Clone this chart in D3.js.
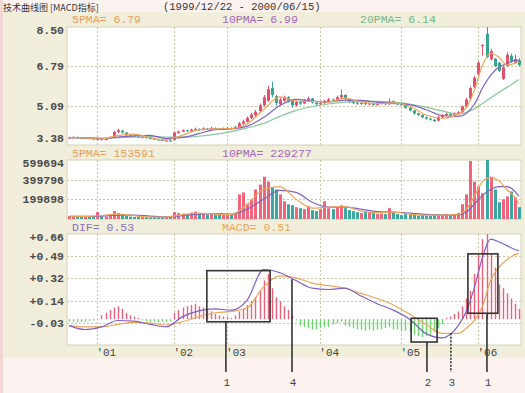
<!DOCTYPE html>
<html><head><meta charset="utf-8">
<script src="https://cdn.jsdelivr.net/npm/d3@7"></script>
<style>body{margin:0;background:#fbf1ef;} svg{display:block}</style>
</head><body><svg id="c" width="525" height="393"></svg>
<script>
// ---------------- DATA ----------------
const N = 112;
const opens  = [3.66,3.70,3.73,3.68,3.65,3.70,3.66,3.61,3.64,3.60,3.66,3.74,3.94,4.00,3.92,3.80,3.78,3.74,3.70,3.72,3.68,3.65,3.62,3.60,3.56,3.58,
  3.60,3.90,3.96,4.02,3.98,4.04,4.08,4.04,4.10,4.06,4.12,4.08,4.05,4.10,4.12,4.08,4.16,4.30,4.38,4.55,4.68,4.85,5.10,5.30,5.85,5.50,5.15,5.30,5.45,5.30,
  5.10,5.25,5.18,5.30,5.40,5.22,5.14,5.20,5.26,5.35,5.30,5.45,5.55,5.38,5.25,5.22,5.16,5.20,5.14,5.20,5.12,5.18,5.22,5.15,5.28,5.20,5.15,5.12,5.00,4.88,
  4.75,4.68,4.58,4.52,4.48,4.44,4.58,4.66,4.72,4.66,4.74,4.80,5.05,5.40,5.90,6.45,7.70,8.20,7.10,7.12,6.95,6.25,6.80,7.25,6.95,7.05];
const closes = [3.70,3.72,3.68,3.66,3.70,3.65,3.62,3.64,3.60,3.66,3.72,3.95,4.02,3.92,3.80,3.78,3.74,3.70,3.72,3.68,3.65,3.62,3.60,3.56,3.58,3.55,
  3.92,3.96,4.02,3.98,4.05,4.08,4.04,4.10,4.06,4.12,4.08,4.05,4.10,4.12,4.08,4.15,4.32,4.40,4.55,4.70,4.82,5.10,5.45,5.80,5.55,5.20,5.35,5.45,5.30,5.10,
  5.25,5.18,5.32,5.40,5.22,5.15,5.20,5.28,5.35,5.30,5.45,5.55,5.38,5.25,5.22,5.18,5.20,5.15,5.20,5.12,5.18,5.22,5.15,5.28,5.20,5.15,5.12,5.00,4.88,4.75,
  4.68,4.58,4.52,4.48,4.42,4.60,4.68,4.72,4.66,4.75,4.80,5.05,5.35,5.85,6.30,6.95,7.72,7.20,7.45,6.80,6.60,6.75,7.30,7.00,7.10,6.85];
const highs  = [3.74,3.76,3.75,3.70,3.73,3.71,3.68,3.67,3.66,3.69,3.76,4.00,4.08,4.04,3.94,3.84,3.80,3.76,3.75,3.74,3.70,3.67,3.64,3.62,3.61,3.60,
  3.96,4.00,4.06,4.05,4.09,4.14,4.10,4.15,4.12,4.18,4.14,4.10,4.14,4.17,4.14,4.20,4.38,4.48,4.62,4.78,4.90,5.18,5.55,5.95,6.13,5.55,5.45,5.52,5.50,5.32,
  5.30,5.30,5.38,5.48,5.42,5.26,5.26,5.34,5.42,5.40,5.52,5.79,5.58,5.40,5.30,5.26,5.25,5.24,5.26,5.22,5.24,5.28,5.25,5.40,5.32,5.24,5.20,5.14,5.02,4.90,
  4.78,4.70,4.62,4.55,4.50,4.64,4.72,4.78,4.75,4.80,4.85,5.10,5.42,5.92,6.38,7.02,7.75,8.50,7.55,7.15,7.00,6.80,7.40,7.35,7.30,7.15];
const lows   = [3.64,3.67,3.66,3.63,3.63,3.62,3.60,3.59,3.57,3.58,3.64,3.72,3.90,3.88,3.78,3.75,3.72,3.68,3.68,3.66,3.63,3.60,3.58,3.54,3.53,3.52,
  3.58,3.88,3.94,3.95,3.96,4.02,4.00,4.02,4.03,4.04,4.05,4.02,4.03,4.07,4.05,4.06,4.14,4.26,4.35,4.50,4.62,4.80,5.05,5.25,5.45,5.10,5.10,5.25,5.22,5.00,
  5.05,5.12,5.15,5.25,5.18,5.10,5.10,5.16,5.22,5.25,5.28,5.40,5.32,5.20,5.16,5.12,5.12,5.10,5.10,5.08,5.08,5.14,5.10,5.12,5.15,5.10,5.08,4.95,4.84,4.70,
  4.64,4.54,4.48,4.44,4.38,4.40,4.55,4.62,4.62,4.63,4.70,4.78,5.02,5.36,5.85,6.40,7.25,7.15,7.05,6.75,6.55,6.20,6.78,6.95,6.92,6.80];
const volumes = [30000,25000,22000,30000,25000,20000,28000,70000,30000,25000,35000,80000,60000,40000,30000,25000,20000,25000,20000,20000,18000,20000,18000,20000,22000,25000,
  70000,60000,55000,50000,65000,75000,55000,50000,45000,50000,40000,45000,40000,50000,45000,60000,250000,270000,150000,200000,300000,350000,430000,380000,320000,300000,250000,180000,150000,140000,
  120000,110000,100000,130000,90000,80000,100000,180000,110000,100000,120000,140000,110000,90000,80000,70000,60000,80000,70000,60000,50000,55000,50000,110000,70000,50000,40000,50000,45000,40000,
  35000,40000,35000,30000,40000,45000,40000,45000,40000,50000,60000,150000,250000,590000,380000,330000,260000,599694,430000,300000,170000,200000,230000,280000,220000,120000];
const hist = [-0.02,-0.02,-0.025,-0.02,-0.02,-0.015,-0.01,-0.005,0.03,0.05,0.07,0.09,0.10,0.08,0.05,0.03,0.02,0.01,-0.01,-0.015,-0.02,-0.02,-0.025,-0.02,-0.02,-0.015,
  0.05,0.07,0.09,0.10,0.11,0.12,0.10,0.09,0.07,0.06,0.04,0.03,0.02,0.02,0.01,0.03,0.06,0.08,0.11,0.14,0.17,0.22,0.30,0.35,0.24,0.17,0.14,0.10,0.07,0.03,
  -0.01,-0.05,-0.06,-0.07,-0.08,-0.08,-0.07,-0.06,-0.06,-0.04,-0.03,-0.02,-0.05,-0.06,-0.07,-0.08,-0.08,-0.09,-0.08,-0.09,-0.08,-0.08,-0.07,-0.06,-0.08,-0.08,-0.09,-0.09,-0.10,-0.12,
  -0.13,-0.14,-0.13,-0.12,-0.10,-0.07,-0.04,0.01,0.02,0.04,0.06,0.10,0.16,0.22,0.35,0.50,0.62,0.70,0.50,0.40,0.27,0.24,0.20,0.16,0.12,0.08];

// sampled indicator lines
const lineIdx = [0,4,8,12,16,20,24,28,32,36,40,44,48,52,56,60,64,68,72,76,80,84,88,92,96,98,100,102,104,106,108,110,111];
const priceMA5  = [3.70,3.69,3.64,3.79,3.85,3.70,3.60,3.81,4.03,4.08,4.09,4.30,4.92,5.47,5.29,5.27,5.24,5.41,5.25,5.17,5.21,5.07,4.68,4.54,4.72,5.00,5.75,6.85,7.35,7.20,6.85,6.92,6.99];
const priceMA10 = [3.70,3.69,3.66,3.72,3.78,3.80,3.66,3.71,3.87,4.05,4.08,4.20,4.57,5.09,5.36,5.28,5.25,5.33,5.32,5.24,5.19,5.13,4.92,4.66,4.62,4.75,5.15,5.85,6.40,6.75,6.90,7.05,7.05];
const priceMA20 = [3.70,3.70,3.68,3.70,3.72,3.74,3.72,3.72,3.76,3.84,3.96,4.12,4.32,4.62,4.88,5.05,5.16,5.24,5.27,5.27,5.24,5.16,5.02,4.86,4.72,4.80,4.95,5.18,5.42,5.66,5.88,6.10,6.22];
const volMA5  = [28000,26000,35000,50000,35000,20000,20000,45000,60000,50000,45000,150000,300000,330000,200000,110000,120000,125000,80000,65000,70000,50000,40000,40000,45000,100000,230000,380000,420000,390000,300000,220000,155000];
const volMA10 = [28000,27000,30000,40000,40000,30000,22000,35000,50000,55000,50000,100000,200000,290000,270000,170000,120000,120000,100000,75000,70000,60000,48000,42000,42000,70000,150000,240000,300000,330000,330000,280000,229277];
const dif = [-0.05,-0.08,-0.06,-0.01,-0.015,-0.04,-0.06,0.02,0.065,0.08,0.07,0.15,0.385,0.36,0.30,0.24,0.23,0.24,0.18,0.12,0.07,0.00,-0.11,-0.145,-0.05,0.06,0.245,0.48,0.62,0.60,0.57,0.54,0.53];
const dea = [-0.05,-0.06,-0.06,-0.04,-0.025,-0.03,-0.045,-0.02,0.02,0.05,0.06,0.09,0.25,0.335,0.32,0.28,0.26,0.24,0.20,0.16,0.11,0.04,-0.04,-0.11,-0.11,-0.07,-0.01,0.10,0.30,0.40,0.46,0.50,0.51];

// axes / ticks
const monthTickIdx = [7,26,39,62,82,101];
const monthLabels = ["'01","'02","'03","'04","'05","'06"];
const priceTicks = [3.38,5.09,6.79,8.50];
const volTicks = [199898,399796,599694];
const macdTicks = [0.66,0.488,0.316,0.144,-0.028];
const macdTickLabels = ["+0.66","+0.49","+0.32","+0.14","-0.03"];

// annotations (index / value space)
const notes = [
  {label:"1", box:[34.5,50.1,-0.02,0.376], at:39.2, from:-0.02},
  {label:"4", at:55.5, from:0.31},
  {label:"2", box:[84.9,91.3,-0.177,0.007], at:88.8, from:-0.177},
  {label:"3", at:94.7, from:-0.108, dashed:true},
  {label:"1", box:[98.9,106.3,0.046,0.506], at:103.6, from:0.046}
];

// ---------------- DRAW ----------------
const svg = d3.select('#c');
const L = 67, R = 521;
const x = d3.scaleLinear().domain([0,N]).range([L,R]);
const cx = i => x(i+0.5);
const MONO = "'Liberation Mono', 'DejaVu Sans Mono', monospace";
const RED = "#e4506c", TEAL = "#36a58e";
const VRED = "#f0647c", VTEAL = "#3aa8a0";
const C_ORANGE = "#eea55a", C_PURPLE = "#7e62c2", C_GREEN = "#86c69c";

svg.append('rect').attr('width',525).attr('height',393).attr('fill','#fcf3f1');
svg.append('rect').attr('x',0).attr('y',0).attr('width',3).attr('height',393).attr('fill','#f2d6d6');
svg.append('rect').attr('x',3).attr('y',12).attr('width',522).attr('height',346).attr('fill','#f1eedb');

// title
svg.append('text').attr('x',3).attr('y',10.6).attr('font-family',"'Noto Sans CJK SC', sans-serif").attr('font-size',9)
  .attr('fill','#333').text('技术曲线图 [MACD指标]');
svg.append('text').attr('x',163).attr('y',9.5).attr('font-family',MONO).attr('font-size',10.5)
  .attr('fill','#333').text('(1999/12/22 - 2000/06/15)');

const panels = {
  price:{top:27,bottom:145,domain:[3.38,8.50]},
  vol:{top:160,bottom:219,domain:[0,599694]},
  macd:{top:234,bottom:345,domain:[-0.20,0.66]}
};
Object.entries(panels).forEach(([k,p])=>{
  p.y = d3.scaleLinear().domain(p.domain).range([p.bottom,p.top]);
  svg.append('rect').attr('x',L).attr('y',p.top).attr('width',R-L).attr('height',p.bottom-p.top)
    .attr('fill','#fff').attr('stroke','#d6d1b8').attr('stroke-width',1);
  svg.append('clipPath').attr('id','clip-'+k).append('rect')
    .attr('x',L).attr('y',p.top).attr('width',R-L).attr('height',p.bottom-p.top);
  p.g = svg.append('g').attr('clip-path',`url(#clip-${k})`);
  p.g.selectAll('.vg').data(monthTickIdx).join('line')
    .attr('x1',d=>Math.round(cx(d))+0.5).attr('x2',d=>Math.round(cx(d))+0.5)
    .attr('y1',p.top).attr('y2',p.bottom)
    .attr('stroke','#cdc6a6').attr('stroke-dasharray','2,2');
});

function hGrid(p, vals){
  p.g.selectAll(null).data(vals).join('line')
    .attr('x1',L).attr('x2',R)
    .attr('y1',d=>Math.round(p.y(d))+0.5).attr('y2',d=>Math.round(p.y(d))+0.5)
    .attr('stroke','#cdc6a6').attr('stroke-dasharray','2,2');
}
function axisLabels(p, vals, labels){
  svg.append('g').selectAll('text').data(vals).join('text')
    .attr('x',64).attr('text-anchor','end')
    .attr('y',d=>Math.min(Math.max(p.y(d), p.top+3), p.bottom-7))
    .attr('dy','0.35em')
    .attr('font-family',MONO).attr('font-size',11.5).attr('font-weight','bold').attr('fill','#4a4a4a')
    .text((d,i)=>labels[i]);
}
function header(y, items){
  items.forEach(it=>{
    svg.append('text').attr('x',it.x).attr('y',y).attr('font-family',MONO).attr('font-size',11.5)
      .attr('fill',it.c).text(it.t);
  });
}

// ---- price panel
const P = panels.price;
hGrid(P,[5.09,6.79]);
axisLabels(P, priceTicks, priceTicks.map(d=>d.toFixed(2)));
header(23,[{x:72,t:'5PMA= 6.79',c:'#e8a060'},{x:222,t:'10PMA= 6.99',c:'#a466b8'},{x:360,t:'20PMA= 6.14',c:'#74b48a'}]);
const idx = d3.range(N);
P.g.selectAll('.wick').data(idx).join('line')
  .attr('x1',i=>Math.round(cx(i))+0.5).attr('x2',i=>Math.round(cx(i))+0.5)
  .attr('y1',i=>P.y(highs[i])).attr('y2',i=>P.y(lows[i]))
  .attr('stroke',i=>closes[i]>=opens[i]?RED:TEAL).attr('stroke-width',1);
P.g.selectAll('.body').data(idx).join('rect')
  .attr('x',i=>Math.round(cx(i))-1).attr('width',3)
  .attr('y',i=>P.y(Math.max(opens[i],closes[i])))
  .attr('height',i=>Math.max(1,Math.abs(P.y(opens[i])-P.y(closes[i]))))
  .attr('fill',i=>closes[i]>=opens[i]?RED:TEAL);
function drawLine(p, vals, color){
  p.g.append('path').datum(lineIdx.map((k,j)=>[k,vals[j]]))
    .attr('fill','none').attr('stroke',color).attr('stroke-width',1.2)
    .attr('d',d3.line().x(d=>cx(d[0])).y(d=>p.y(d[1])).curve(d3.curveMonotoneX));
}
drawLine(P, priceMA20, C_GREEN);
drawLine(P, priceMA10, C_PURPLE);
drawLine(P, priceMA5, C_ORANGE);

// ---- volume panel
const V = panels.vol;
hGrid(V,[199898,399796]);
axisLabels(V, volTicks, volTicks.map(String));
header(157,[{x:72,t:'5PMA= 153591',c:'#e8a060'},{x:222,t:'10PMA= 229277',c:'#a466b8'}]);
V.g.selectAll('.vb').data(idx).join('rect')
  .attr('x',i=>Math.round(cx(i))-1).attr('width',3)
  .attr('y',i=>V.y(volumes[i])).attr('height',i=>V.bottom-V.y(volumes[i]))
  .attr('fill',i=>closes[i]>=opens[i]?VRED:VTEAL);
drawLine(V, volMA10, C_PURPLE);
drawLine(V, volMA5, C_ORANGE);

// ---- MACD panel
const M = panels.macd;
hGrid(M, macdTicks.slice(1));
axisLabels(M, macdTicks, macdTickLabels);
header(231,[{x:72,t:'DIF= 0.53',c:'#8a70c0'},{x:222,t:'MACD= 0.51',c:'#eea55a'}]);
M.g.selectAll('.hb').data(idx).join('line')
  .attr('x1',i=>Math.round(cx(i))+0.5).attr('x2',i=>Math.round(cx(i))+0.5)
  .attr('y1',M.y(0)).attr('y2',i=>M.y(hist[i]))
  .attr('stroke',i=>hist[i]>=0?'#e8607a':'#6cd66c').attr('stroke-width',1.4);
drawLine(M, dea, C_ORANGE);
drawLine(M, dif, C_PURPLE);

// x axis labels
svg.append('g').selectAll('text').data(monthTickIdx).join('text')
  .attr('x',d=>cx(d)-1).attr('y',356)
  .attr('font-family',MONO).attr('font-size',11).attr('fill','#444')
  .text((d,i)=>monthLabels[i]);

// annotations
const ag = svg.append('g').attr('stroke','#333').attr('fill','none').attr('stroke-width',1.6);
notes.forEach(n=>{
  if(n.box){
    const [i0,i1,v0,v1] = n.box;
    ag.append('rect').attr('x',x(i0)).attr('y',M.y(v1)).attr('width',x(i1)-x(i0)).attr('height',M.y(v0)-M.y(v1));
  }
  ag.append('line').attr('x1',x(n.at)).attr('x2',x(n.at)).attr('y1',M.y(n.from)).attr('y2',372)
    .attr('stroke-dasharray',n.dashed?'2,1.5':null);
  svg.append('text').attr('x',x(n.at)+1).attr('y',386).attr('text-anchor','middle')
    .attr('font-family',MONO).attr('font-size',11).attr('fill','#444').text(n.label);
});
</script></body></html>
